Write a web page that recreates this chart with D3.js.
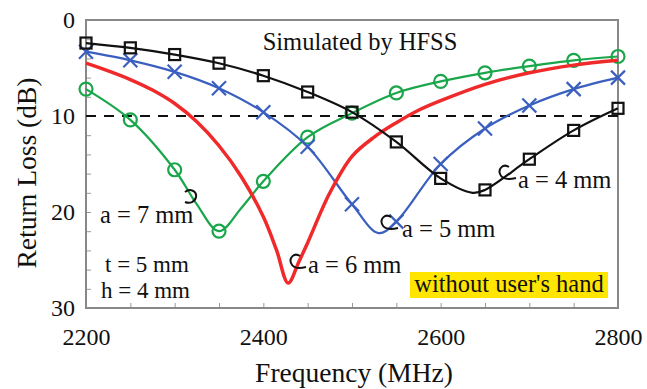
<!DOCTYPE html>
<html><head><meta charset="utf-8">
<script src="https://cdn.jsdelivr.net/npm/d3@7"></script>
<style>body{margin:0;background:#fff}svg{display:block}text{font-family:"Liberation Serif","Times New Roman",serif;fill:#111}</style>
</head><body><svg id="c" width="647" height="389"></svg>
<script>
// Data (frequency MHz, return loss dB)
const freqA4 = [2200,2250,2300,2350,2400,2450,2500,2550,2600,2636,2650,2700,2750,2800];
const rlA4   = [2.4,2.9,3.6,4.5,5.8,7.5,9.6,12.7,16.5,18.0,17.7,14.5,11.5,9.2];
const freqA5 = [2200,2250,2300,2350,2400,2450,2500,2530,2550,2600,2650,2700,2750,2800];
const rlA5   = [3.3,4.2,5.4,7.1,9.6,13.2,19.2,22.2,21.0,15.0,11.3,8.9,7.2,6.0];
const freqA6 = [2200,2225,2250,2275,2300,2325,2350,2375,2400,2415,2428,2440,2450,2475,2500,2525,2550,2575,2600,2650,2700,2750,2800];
const rlA6   = [4.5,5.3,6.2,7.3,8.7,10.6,13.1,16.3,20.5,24.0,27.4,25.2,23.2,18.0,14.2,12.2,10.7,9.4,8.4,6.7,5.5,4.7,4.2];
const freqA7 = [2200,2250,2300,2325,2350,2375,2400,2450,2500,2550,2600,2650,2700,2750,2800];
const rlA7   = [7.2,10.4,15.6,19.2,22.0,19.6,16.8,12.2,9.7,7.6,6.4,5.5,4.8,4.2,3.8];
const markerStep = 50;
const xTicks = [2200,2400,2600,2800];
const yTicks = [0,10,20,30];
const refLevel = 10;

const svg = d3.select("#c");
const x = d3.scaleLinear().domain([2200,2800]).range([86,618]);
const y = d3.scaleLinear().domain([0,30]).range([20,308]);

// minor ticks
svg.append("g").attr("transform","translate(86,0)")
  .call(d3.axisLeft(y).tickValues(d3.range(2,30,2)).tickSize(-5).tickFormat(""))
  .call(g=>{g.select(".domain").remove();g.selectAll("line").attr("stroke","#999").attr("stroke-width",1);});
svg.append("g").attr("transform","translate(0,308)")
  .call(d3.axisBottom(x).tickValues(d3.range(2250,2800,50)).tickSize(-5).tickFormat(""))
  .call(g=>{g.select(".domain").remove();g.selectAll("line").attr("stroke","#999").attr("stroke-width",1);});

// frame
svg.append("rect").attr("x",x(2200)).attr("y",y(0)).attr("width",x(2800)-x(2200)).attr("height",y(30)-y(0))
  .attr("fill","none").attr("stroke","#888").attr("stroke-width",2);

// tick labels
svg.append("g").attr("transform","translate(86,0)")
  .call(d3.axisLeft(y).tickValues(yTicks).tickSize(0).tickPadding(11).tickFormat(d3.format("d")))
  .call(g=>{g.select(".domain").remove();g.selectAll("text").style("font-size","24px").attr("font-family","Liberation Serif").attr("fill","#111");});
svg.append("g").attr("transform","translate(0,308)")
  .call(d3.axisBottom(x).tickValues(xTicks).tickSize(0).tickPadding(20).tickFormat(d3.format("d")))
  .call(g=>{g.select(".domain").remove();g.selectAll("text").style("font-size","24px").attr("font-family","Liberation Serif").attr("fill","#111");});

// axis titles
svg.append("text").attr("x",354).attr("y",382).attr("text-anchor","middle").style("font-size","27.5px").text("Frequency (MHz)");
svg.append("text").attr("transform","translate(36,173) rotate(-90)").attr("text-anchor","middle").style("font-size","27.5px").text("Return Loss (dB)");

// dashed ref line
svg.append("line").attr("x1",x(2200)).attr("x2",x(2800)).attr("y1",y(refLevel)).attr("y2",y(refLevel))
  .attr("stroke","#111").attr("stroke-width",2).attr("stroke-dasharray","10,8");

const line = d3.line().x(d=>x(d[0])).y(d=>y(d[1])).curve(d3.curveCatmullRom.alpha(0.5));
function series(fr, rl, color, w, marker){
  const pts = fr.map((f,i)=>[f,rl[i]]);
  svg.append("path").datum(pts).attr("d",line).attr("fill","none").attr("stroke",color).attr("stroke-width",w);
  if(!marker) return;
  const mk = pts.filter(p=>p[0]%markerStep===0);
  const g = svg.append("g").attr("fill","none").attr("stroke",color).attr("stroke-width",2.2);
  mk.forEach(p=>{
    const cx=x(p[0]), cy=y(p[1]);
    if(marker==="square") g.append("rect").attr("x",cx-5.5).attr("y",cy-5.5).attr("width",11).attr("height",11);
    else if(marker==="circle") g.append("circle").attr("cx",cx).attr("cy",cy).attr("r",6.5);
    else if(marker==="x") g.append("path").attr("d",`M${cx-7},${cy-7}L${cx+7},${cy+7}M${cx-7},${cy+7}L${cx+7},${cy-7}`);
  });
}
series(freqA7, rlA7, "#1aa64a", 2.2, "circle");
series(freqA5, rlA5, "#3a5fbf", 2.2, "x");
series(freqA6, rlA6, "#f02a2a", 3.5, null);
series(freqA4, rlA4, "#111", 2.2, "square");

// annotations
const ann = [
  {t:"Simulated by HFSS", x:360, y:50, a:"middle", s:24.5},
  {t:"a = 7 mm", x:100, y:223, a:"start", s:24.5},
  {t:"t = 5 mm", x:105, y:272, a:"start", s:23},
  {t:"h = 4 mm", x:101, y:298, a:"start", s:23},
  {t:"a = 6 mm", x:308, y:273, a:"start", s:24.5},
  {t:"a = 5 mm", x:402, y:237, a:"start", s:24.5},
  {t:"a = 4 mm", x:518, y:188, a:"start", s:24.5}
];
svg.append("rect").attr("x",410).attr("y",272).attr("width",198).attr("height",26).attr("fill","#ffe500");
ann.push({t:"without user's hand", x:509, y:292, a:"middle", s:24.5});
ann.forEach(d=>svg.append("text").attr("x",d.x).attr("y",d.y).attr("text-anchor",d.a).style("font-size",d.s+"px").text(d.t));

// hooks
const hooks = [
  "M185,192 C190,188 197,191 196,197 C195,202 190,204 185,202",
  "M300,256 C294,252 289,258 291,263 C293,268 299,269 306,267",
  "M391,217 C385,213 380,219 382,224 C384,229 390,230 398,228",
  "M509,167 C503,163 498,169 500,174 C502,179 508,180 516,178"
];
hooks.forEach(h=>svg.append("path").attr("d",h).attr("fill","none").attr("stroke","#111").attr("stroke-width",2));
</script></body></html>
